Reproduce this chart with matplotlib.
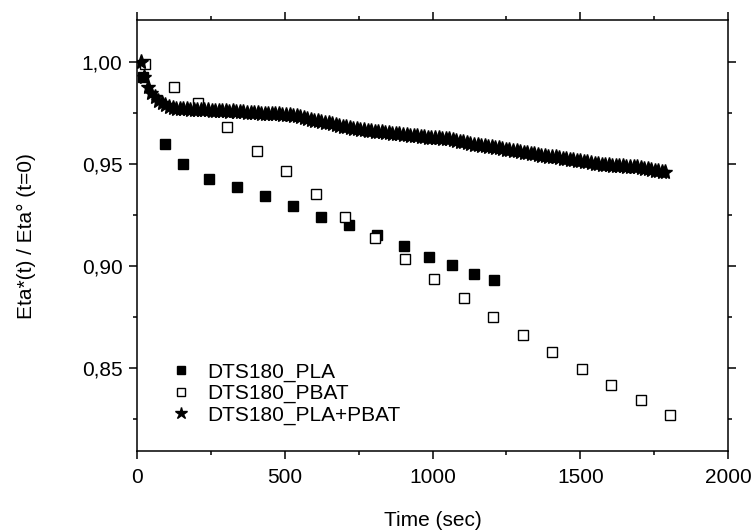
import numpy as np
import matplotlib
matplotlib.use("Agg")
import matplotlib.pyplot as plt
from matplotlib.ticker import MultipleLocator, FuncFormatter

plt.rcParams['font.family'] = ['Liberation Sans', 'DejaVu Sans']

# DTS180_PLA (filled squares)
t_pla = [20, 95, 157, 245, 339, 433, 528, 622, 716, 811, 903, 989, 1067, 1139, 1209]
eta_pla = [0.9928, 0.9601, 0.9499, 0.9428, 0.9386, 0.9343, 0.9294, 0.9242, 0.9204,
           0.9152, 0.9098, 0.9045, 0.9006, 0.8962, 0.8931]

# DTS180_PBAT (open squares)
t_pbat = [27, 125, 205, 305, 405, 505, 605, 705, 805, 905, 1005, 1105, 1205, 1305,
          1405, 1505, 1605, 1705, 1804]
eta_pbat = [0.9990, 0.9880, 0.9798, 0.9683, 0.9565, 0.9466, 0.9353, 0.9242, 0.9139,
            0.9034, 0.8935, 0.8845, 0.8750, 0.8663, 0.8577, 0.8494, 0.8418, 0.8343,
            0.8268]

# DTS180_PLA+PBAT (stars, sampled every ~12 s)
t_blend = [12, 24, 36, 48, 60, 72, 84, 96, 108, 120, 132, 144, 156, 168, 180, 192,
           204, 216, 228, 240, 252, 264, 276, 288, 300, 312, 324, 336, 348, 360, 372,
           384, 396, 408, 420, 432, 444, 456, 468, 480, 492, 504, 516, 528, 540, 552,
           564, 576, 588, 600, 612, 624, 636, 648, 660, 672, 684, 696, 708, 720, 732,
           744, 756, 768, 780, 792, 804, 816, 828, 840, 852, 864, 876, 888, 900, 912,
           924, 936, 948, 960, 972, 984, 996, 1008, 1020, 1032, 1044, 1056, 1068, 1080,
           1092, 1104, 1116, 1128, 1140, 1152, 1164, 1176, 1188, 1200, 1212, 1224, 1236,
           1248, 1260, 1272, 1284, 1296, 1308, 1320, 1332, 1344, 1356, 1368, 1380, 1392,
           1404, 1416, 1428, 1440, 1452, 1464, 1476, 1488, 1500, 1512, 1524, 1536, 1548,
           1560, 1572, 1584, 1596, 1608, 1620, 1632, 1644, 1656, 1668, 1680, 1692, 1704,
           1716, 1728, 1740, 1752, 1764, 1776, 1788]
eta_blend = [1.000, 0.993, 0.988, 0.985, 0.983, 0.981, 0.980, 0.979, 0.978, 0.9776,
             0.9772, 0.9771, 0.9769, 0.9770, 0.9767, 0.9766, 0.9767, 0.9765, 0.9764,
             0.9764, 0.9762, 0.9763, 0.9761, 0.9760, 0.9759, 0.9758, 0.9759, 0.9756,
             0.9755, 0.9754, 0.9753, 0.9751, 0.9750, 0.9749, 0.9748, 0.9747, 0.9746,
             0.9745, 0.9744, 0.9744, 0.9742, 0.9741, 0.9740, 0.9738, 0.9734, 0.9730,
             0.9726, 0.9722, 0.9718, 0.9714, 0.9710, 0.9707, 0.9703, 0.9700, 0.9696,
             0.9692, 0.9688, 0.9684, 0.9681, 0.9678, 0.9675, 0.9672, 0.9670, 0.9667,
             0.9665, 0.9662, 0.9660, 0.9658, 0.9656, 0.9654, 0.9652, 0.9650, 0.9648,
             0.9646, 0.9644, 0.9642, 0.9640, 0.9638, 0.9636, 0.9634, 0.9632, 0.9630,
             0.9628, 0.9627, 0.9626, 0.9625, 0.9624, 0.9622, 0.9619, 0.9615, 0.9611,
             0.9607, 0.9603, 0.9599, 0.9595, 0.9592, 0.9589, 0.9587, 0.9584, 0.9582,
             0.9580, 0.9578, 0.9575, 0.9572, 0.9569, 0.9566, 0.9563, 0.9560, 0.9557,
             0.9554, 0.9551, 0.9548, 0.9545, 0.9542, 0.9540, 0.9537, 0.9535, 0.9533,
             0.9530, 0.9527, 0.9524, 0.9522, 0.9520, 0.9517, 0.9514, 0.9512, 0.9509,
             0.9506, 0.9503, 0.9500, 0.9498, 0.9496, 0.9494, 0.9492, 0.9491, 0.9490,
             0.9489, 0.9488, 0.9487, 0.9486, 0.9484, 0.9481, 0.9478, 0.9475, 0.9472,
             0.9469, 0.9466, 0.9463, 0.9460]

fig = plt.figure(figsize=(7.53, 5.32), dpi=100)
ax = fig.add_axes([0.182, 0.152, 0.785, 0.810])

ax.plot(t_pla, eta_pla, ls="none", marker="s", ms=7, mfc="black", mec="black",
        label="DTS180_PLA")
ax.plot(t_pbat, eta_pbat, ls="none", marker="s", ms=7, mfc="white", mec="black",
        mew=1.0, label="DTS180_PBAT")
ax.plot(t_blend, eta_blend, ls="none", marker="*", ms=11, mfc="black", mec="black",
        label="DTS180_PLA+PBAT")

ax.set_xlim(0, 2000)
ax.set_ylim(0.8093, 1.0206)

ax.xaxis.set_major_locator(MultipleLocator(500))
ax.xaxis.set_minor_locator(MultipleLocator(250))
ax.yaxis.set_major_locator(MultipleLocator(0.05))
ax.yaxis.set_minor_locator(MultipleLocator(0.025))
ax.yaxis.set_major_formatter(FuncFormatter(lambda v, p: f"{v:.2f}".replace(".", ",")))

fs = 15
for s in ax.spines.values():
    s.set_linewidth(1.1)
ax.tick_params(which="both", direction="out", top=True, right=True, labelsize=fs,
               width=1.1)
ax.tick_params(which="major", length=5.5)
ax.tick_params(which="minor", length=3)
ax.tick_params(axis="x", which="major", pad=7)
ax.tick_params(axis="y", which="major", pad=5)

ax.set_xlabel("Time (sec)", fontsize=fs, labelpad=17)
ax.set_ylabel("Eta*(t) / Eta° (t=0)", fontsize=fs, labelpad=33)

leg = ax.legend(loc="lower left", bbox_to_anchor=(0.042, 0.042), frameon=False,
                fontsize=fs, handletextpad=0.8, labelspacing=0.1, markerscale=0.85,
                handlelength=1.0, borderaxespad=0)

fig.savefig("out.png", dpi=100)
